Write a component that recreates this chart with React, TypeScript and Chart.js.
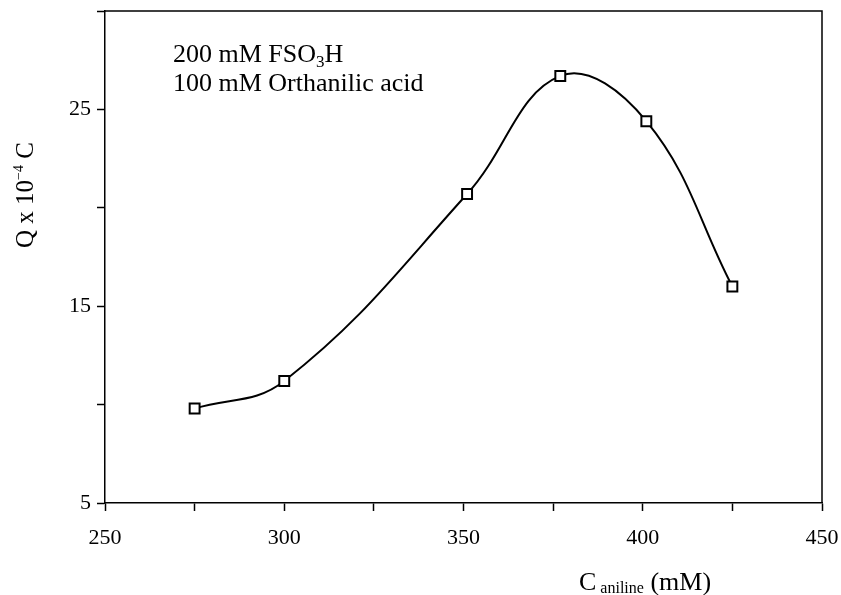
import React, { useEffect, useRef } from "react";
import { Chart, registerables } from "chart.js";

Chart.register(...registerables);

const concentrations = [275, 300, 351, 377, 401, 425];
const charges = [9.8, 11.2, 20.7, 26.7, 24.4, 16.0];
const xLabeledTicks = [250, 300, 350, 400, 450];
const yLabeledTicks = [5, 15, 25];
const noteLine1 = ["200 mM FSO", "3", "H"];
const noteLine2 = "100 mM Orthanilic acid";
const yTitle = ["Q x 10", "−4", " C"];
const xTitle = ["C", " aniline", " (mM)"];

const SERIF = "'Liberation Serif', 'Times New Roman', serif";

const decorPlugin = {
  id: "decor",
  afterDraw(chart: any) {
    const { ctx, chartArea } = chart;
    const { left, right, top, bottom } = chartArea;
    ctx.save();
    // frame top & right
    ctx.strokeStyle = "#000";
    ctx.lineWidth = 1.5;
    ctx.beginPath();
    ctx.moveTo(left, top);
    ctx.lineTo(right, top);
    ctx.lineTo(right, bottom);
    ctx.stroke();

    ctx.fillStyle = "#000";
    ctx.textBaseline = "alphabetic";
    ctx.textAlign = "left";

    // annotation
    let x = 173;
    let y = 62;
    ctx.font = `26px ${SERIF}`;
    ctx.fillText(noteLine1[0], x, y);
    x += ctx.measureText(noteLine1[0]).width;
    ctx.font = `17px ${SERIF}`;
    ctx.fillText(noteLine1[1], x, y + 5);
    x += ctx.measureText(noteLine1[1]).width;
    ctx.font = `26px ${SERIF}`;
    ctx.fillText(noteLine1[2], x, y);
    ctx.fillText(noteLine2, 173, y + 29);

    // x title
    x = 579;
    y = 590;
    ctx.font = `26px ${SERIF}`;
    ctx.fillText(xTitle[0], x, y);
    x += ctx.measureText(xTitle[0]).width;
    ctx.font = `16px ${SERIF}`;
    ctx.fillText(xTitle[1], x, y + 3);
    x += ctx.measureText(xTitle[1]).width;
    ctx.font = `26px ${SERIF}`;
    ctx.fillText(xTitle[2], x, y);

    // y title (rotated)
    ctx.save();
    ctx.font = `25px ${SERIF}`;
    const w0 = ctx.measureText(yTitle[0]).width;
    const w2 = ctx.measureText(yTitle[2]).width;
    ctx.font = `14px ${SERIF}`;
    const w1 = ctx.measureText(yTitle[1]).width;
    const total = w0 + w1 + w2;
    ctx.translate(33, 195);
    ctx.rotate(-Math.PI / 2);
    let tx = -total / 2;
    ctx.font = `25px ${SERIF}`;
    ctx.fillText(yTitle[0], tx, 0);
    tx += w0;
    ctx.font = `14px ${SERIF}`;
    ctx.fillText(yTitle[1], tx, -10);
    tx += w1;
    ctx.font = `25px ${SERIF}`;
    ctx.fillText(yTitle[2], tx, 0);
    ctx.restore();

    ctx.restore();
  },
};

export default function App() {
  const canvasRef = useRef<HTMLCanvasElement | null>(null);

  useEffect(() => {
    const canvas = canvasRef.current;
    if (!canvas) return;
    const chart = new Chart(canvas, {
      type: "line",
      data: {
        datasets: [
          {
            data: concentrations.map((c, i) => ({ x: c, y: charges[i] })),
            borderColor: "#000",
            borderWidth: 2,
            tension: 0.4,
            pointStyle: "rect",
            pointRadius: 7,
            pointBorderWidth: 2,
            pointBackgroundColor: "#fff",
            pointBorderColor: "#000",
            fill: false,
          },
        ],
      },
      options: {
        responsive: false,
        animation: false,
        devicePixelRatio: 1,
        layout: { padding: { top: 11, right: 19, left: 0, bottom: 0 } },
        plugins: {
          legend: { display: false },
          tooltip: { enabled: false },
          title: { display: false },
        },
        scales: {
          x: {
            type: "linear",
            min: 250,
            max: 450,
            afterFit: (scale: any) => {
              scale.height = 92;
              scale.paddingLeft = 0;
              scale.paddingRight = 0;
            },
            ticks: {
              stepSize: 25,
              autoSkip: false,
              maxRotation: 0,
              padding: 14,
              color: "#000",
              font: { family: SERIF, size: 22 },
              callback: (v: any) => (xLabeledTicks.includes(Number(v)) ? String(v) : ""),
            },
            grid: {
              drawOnChartArea: false,
              tickLength: 8,
              tickWidth: 1.5,
              color: "#000",
            },
            border: { color: "#000", width: 1.5 },
          },
          y: {
            type: "linear",
            min: 5,
            max: 30,
            afterFit: (scale: any) => {
              scale.width = 105;
              scale.paddingTop = 0;
              scale.paddingBottom = 0;
            },
            ticks: {
              stepSize: 5,
              autoSkip: false,
              padding: 6,
              color: "#000",
              font: { family: SERIF, size: 22 },
              callback: (v: any) => (yLabeledTicks.includes(Number(v)) ? String(v) : ""),
            },
            grid: {
              drawOnChartArea: false,
              tickLength: 8,
              tickWidth: 1.5,
              color: "#000",
            },
            border: { color: "#000", width: 1.5 },
          },
        },
      },
      plugins: [decorPlugin],
    });
    return () => chart.destroy();
  }, []);

  return (
    <div style={{ position: "fixed", left: 0, top: 0, width: 841, height: 595, background: "#fff" }}>
      <canvas ref={canvasRef} width={841} height={595} style={{ width: 841, height: 595, display: "block" }} />
    </div>
  );
}
